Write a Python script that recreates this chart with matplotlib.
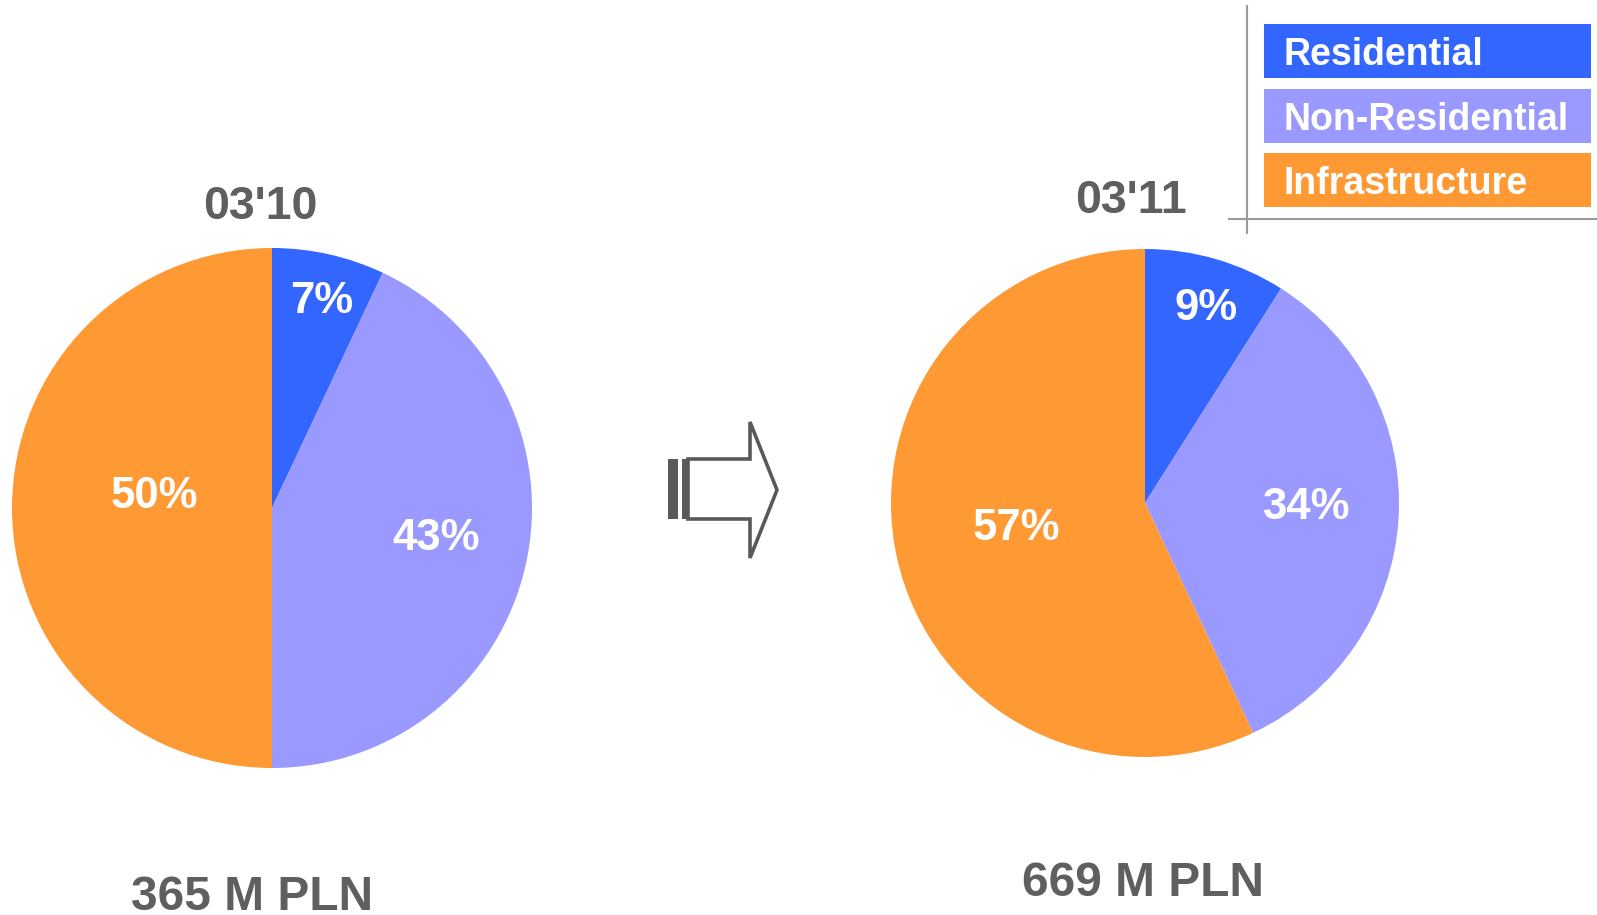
import numpy as np
import matplotlib.pyplot as plt
from matplotlib.patches import Polygon, Rectangle

plt.rcParams['font.family'] = ['Liberation Sans', 'DejaVu Sans']

# Shares by segment
categories = ['Residential', 'Non-Residential', 'Infrastructure']
colors = ['#3366FF', '#9999FF', '#FF9933']
share_2010 = [7, 43, 50]
share_2011 = [9, 34, 57]
periods = ["03'10", "03'11"]
totals = ['365 M PLN', '669 M PLN']

W, H = 1597, 915
fig = plt.figure(figsize=(W / 100, H / 100), dpi=100)
ax = fig.add_axes([0, 0, 1, 1])

GREY = '#5f5f5f'


def draw_pie(values, cx, cy, r, label_dist, nudge):
    wedges, _ = ax.pie(values, colors=colors, startangle=90, counterclock=False,
                       center=(cx, H - cy), radius=r, frame=True,
                       wedgeprops=dict(linewidth=0))
    for w, v, d, (dx, dy) in zip(wedges, values, label_dist, nudge):
        mid = np.deg2rad((w.theta1 + w.theta2) / 2)
        x = cx + d * r * np.cos(mid) + dx
        y = (H - cy) + d * r * np.sin(mid) - dy
        ax.text(x, y, f'{v}%', color='white', fontsize=31.5, fontweight='bold',
                ha='center', va='center')


draw_pie(share_2010, 272, 508, 260, [0.83, 0.64, 0.47],
         [(3, 4), (2, -6), (5, -11)])
draw_pie(share_2011, 1145, 503, 254, [0.81, 0.63, 0.52],
         [(4, 3), (1, -6), (0, -3)])

# period titles and totals
ax.text(260, H - 207, periods[0], color=GREY, fontsize=33.5, fontweight='bold',
        ha='center', va='center')
ax.text(1131, H - 201, periods[1], color=GREY, fontsize=33.5, fontweight='bold',
        ha='center', va='center')
ax.text(252, H - 897, totals[0], color=GREY, fontsize=34.5, fontweight='bold',
        ha='center', va='center')
ax.text(1143, H - 883, totals[1], color=GREY, fontsize=34.5, fontweight='bold',
        ha='center', va='center')

# outline arrow between the pies
arrow_pts = [(688, 459), (750, 459), (750, 422), (777, 490), (750, 558),
             (750, 519), (688, 519)]
ax.add_patch(Polygon([(x, H - y) for x, y in arrow_pts], closed=True,
                     facecolor='white', edgecolor='#595959', linewidth=2.6))
ax.add_patch(Rectangle((668, H - 519), 10, 60, facecolor='#595959', linewidth=0))
ax.add_patch(Rectangle((682, H - 519), 6, 60, facecolor='#595959', linewidth=0))

# legend boxes
box_top = [24, 89, 153]
for c, label, top in zip(colors, categories, box_top):
    ax.add_patch(Rectangle((1264, H - top - 54), 327, 54, facecolor=c, linewidth=0))
    ax.text(1283, H - top - 31, label, color='white', fontsize=27,
            fontweight='bold', ha='left', va='center')

ax.plot([1247, 1247], [H - 6, H - 233], color='#9a9a9a', linewidth=1.5)
ax.plot([1229, W], [H - 219, H - 219], color='#9a9a9a', linewidth=1.5)

ax.set_xlim(0, W)
ax.set_ylim(0, H)
ax.set_aspect('auto')
ax.axis('off')

fig.savefig('out.png', dpi=100)
